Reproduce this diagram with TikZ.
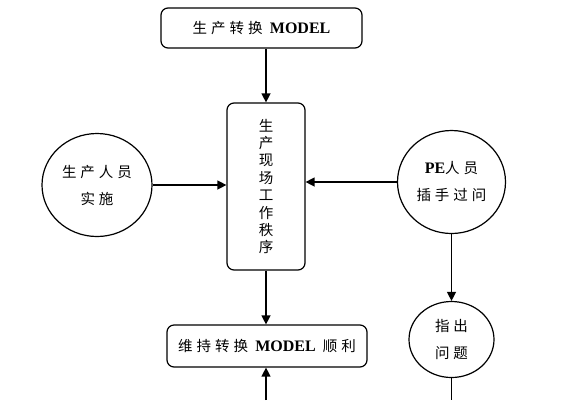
\documentclass[tikz,border=0pt]{standalone}
\usepackage{fontspec}
\setmainfont{Liberation Serif}
\newfontfamily\cjk{Noto Sans CJK SC}
\usetikzlibrary{arrows.meta,shapes.geometric}
\newcommand{\gp}{\hspace{4pt}}
\tikzset{
  box/.style={draw=black,line width=1.2pt,rounded corners=7pt,inner sep=0pt,font=\fontsize{14.5}{20}\selectfont},
  circ/.style={draw=black,line width=1.2pt,ellipse,inner sep=0pt,align=center,font=\fontsize{14.5}{27}\selectfont},
  conn/.style={draw=black,line width=1.3pt},
  arr/.style={conn,-{Triangle[length=9pt,width=9pt]}}
}
\begin{document}
\begin{tikzpicture}[x=1pt,y=-1pt]
\useasboundingbox (0,0) rectangle (572,400);
\node[box,minimum width=201pt,minimum height=40pt] (top) at (261.5,28)
  {{\cjk 生\gp 产\gp 转\gp 换}\ \ {\fontsize{16}{20}\selectfont\textbf{MODEL}}};
\node[box,minimum width=78pt,minimum height=167pt,align=center,font=\fontsize{14.5}{17.4}\selectfont\cjk] (tall) at (266,186.5)
  {生\\产\\现\\场\\工\\作\\秩\\序};
\node[box,minimum width=200pt,minimum height=42pt] (bot) at (267,346)
  {{\cjk 维\gp 持\gp 转\gp 换}\ \ {\fontsize{16}{20}\selectfont\textbf{MODEL}}\ \ {\cjk 顺\gp 利}};
\node[circ,minimum width=110pt,minimum height=103pt] (left) at (97,185)
  {{\cjk 生\gp 产\gp 人\gp 员}\\{\cjk 实\gp 施}};
\node[circ,minimum width=108pt,minimum height=103pt] (right) at (451.5,182)
  {{\fontsize{16}{20}\selectfont\textbf{PE}}{\cjk 人\gp 员}\\{\cjk 插\gp 手\gp 过\gp 问}};
\node[circ,minimum width=85pt,minimum height=76pt] (small) at (451.5,339.5)
  {{\cjk 指\gp 出}\\{\cjk 问\gp 题}};
\coordinate (bin) at (tall.south |- 0,400);
\coordinate (sout) at (small.south |- 0,400);
\draw[arr] (tall.north |- top.south) -- (tall.north);
\draw[arr] (tall.south) -- (tall.south |- bot.north);
\draw[arr] (bin) -- (tall.south |- bot.south);
\draw[arr] (left.east) -- (tall.west |- left.east);
\draw[arr] (right.west) -- (tall.east |- right.west);
\draw[arr] (right.south) -- (small.north);
\draw[conn] (small.south) -- (sout);
\end{tikzpicture}
\end{document}
